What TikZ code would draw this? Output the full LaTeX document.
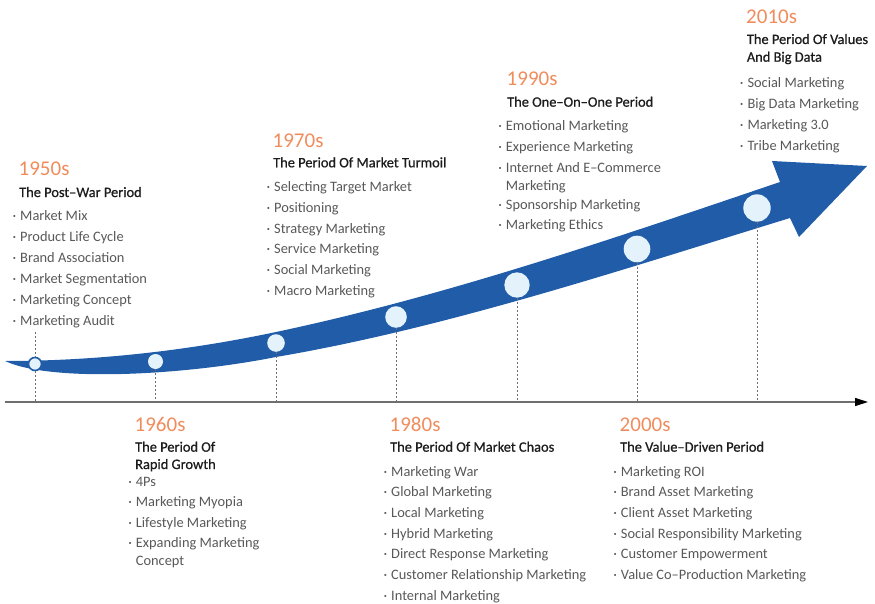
\documentclass[tikz,border=0pt]{standalone}
\usepackage{fontspec}
\setmainfont{Carlito}
\newfontfamily\ttlfont[FakeBold=0.8]{Carlito}
\usepackage{xcolor}
\usetikzlibrary{arrows.meta}
\definecolor{bandblue}{RGB}{32,92,168}
\definecolor{dotfill}{RGB}{228,242,251}
\definecolor{yearorange}{RGB}{240,140,92}
\definecolor{itemgray}{RGB}{88,88,88}
\definecolor{titleblack}{RGB}{28,28,28}
\definecolor{guidegray}{RGB}{110,110,110}

\begin{document}
\begin{tikzpicture}[x=1pt,y=-1pt]
\tikzstyle{yr} = [anchor=base west,inner sep=0,text=yearorange,font=\fontsize{21}{21}\selectfont]
\tikzstyle{ttl} = [anchor=base west,inner sep=0,text=titleblack,font=\ttlfont\fontsize{14.4}{17}\selectfont]
\tikzstyle{itm} = [anchor=base west,inner sep=0,text=itemgray,font=\fontsize{14.4}{17}\selectfont,execute at begin node={\llap{\textperiodcentered\kern4pt}}]
\tikzstyle{itmc} = [anchor=base west,inner sep=0,text=itemgray,font=\fontsize{14.4}{17}\selectfont]
\tikzstyle{dot} = [circle,fill=dotfill,inner sep=0]
\tikzstyle{guide} = [draw=guidegray,line width=0.8pt,dash pattern=on 2pt off 2pt]
\useasboundingbox (0,0) rectangle (875,604);

% axis
\coordinate (a0) at (5,402);
\coordinate (a1) at (868,402);
\draw[guidegray,line width=1.2pt,-{Triangle[length=13pt,width=8pt,color=black]}] (a0) -- (a1);

% blue band
\fill[bandblue] (5,361) .. controls (95,361) and (186,351) .. (276,332)
  .. controls (446,296) and (609,240) .. (780,182)
  -- (772,161) -- (867,166) -- (799,237) -- (790,218)
  .. controls (621,270) and (446,328) .. (276,357)
  .. controls (180,376) and (50,382) .. (5,361) -- cycle;

% decade dots
\node[dot,draw=bandblue,line width=1.6pt,minimum size=13pt] (c1) at (35,364) {};
\node[dot,minimum size=15pt] (c2) at (155.5,361.5) {};
\node[dot,minimum size=17.6pt] (c3) at (276,343) {};
\node[dot,minimum size=21.6pt] (c4) at (396,317) {};
\node[dot,minimum size=25.4pt] (c5) at (517,285) {};
\node[dot,minimum size=26.6pt] (c6) at (637,249) {};
\node[dot,minimum size=27.4pt] (c7) at (757,208) {};

% guides
\coordinate (g1) at (35,332);
\draw[guide] (g1) -- (c1.north);
\foreach \c in {c1,c2,c3,c4,c5,c6,c7}
  \draw[guide] (\c.south) -- (\c |- a0);

% 1950s
\node[yr] (y50) at (18.5,176) {1950s};
\node[ttl] (t50) at (19,197) {The Post–War Period};
\foreach \t [count=\i from 0] in {Market Mix,Product Life Cycle,Brand Association,Market Segmentation,Marketing Concept,Marketing Audit}
  \node[itm] (m50-\i) at (20,{221+20.8*\i}) {\t};

% 1960s
\node[yr] (y60) at (134.5,431) {1960s};
\node[ttl] (t60a) at (135,451.7) {The Period Of};
\node[ttl] (t60b) at (135,469) {Rapid Growth};
\node[itm] (m60-0) at (135.7,486) {4Ps};
\node[itm] (m60-1) at (135.7,506.7) {Marketing Myopia};
\node[itm] (m60-2) at (135.7,527.3) {Lifestyle Marketing};
\node[itm] (m60-3) at (135.7,547.7) {Expanding Marketing};
\node[itmc] (m60-3b) at (135.7,565) {Concept};

% 1970s
\node[yr] (y70) at (272.5,147.3) {1970s};
\node[ttl] (t70) at (273,167.3) {The Period Of Market Turmoil};
\foreach \t [count=\i from 0] in {Selecting Target Market,Positioning,Strategy Marketing,Service Marketing,Social Marketing,Macro Marketing}
  \node[itm] (m70-\i) at (274,{191.7+20.7*\i}) {\t};

% 1980s
\node[yr] (y80) at (389.5,431) {1980s};
\node[ttl] (t80) at (390,451.7) {The Period Of Market Chaos};
\foreach \t [count=\i from 0] in {Marketing War,Global Marketing,Local Marketing,Hybrid Marketing,Direct Response Marketing,Customer Relationship Marketing,Internal Marketing}
  \node[itm] (m80-\i) at (391,{476+20.7*\i}) {\t};

% 1990s
\node[yr] (y90) at (506.5,86) {1990s};
\node[ttl] (t90) at (507,106.7) {The One–On–One Period};
\node[itm] (m90-0) at (505.7,130.7) {Emotional Marketing};
\node[itm] (m90-1) at (505.7,151.3) {Experience Marketing};
\node[itm] (m90-2) at (505.7,172.3) {Internet And E–Commerce};
\node[itmc] (m90-2b) at (505.7,190) {Marketing};
\node[itm] (m90-3) at (505.7,209) {Sponsorship Marketing};
\node[itm] (m90-4) at (505.7,229.3) {Marketing Ethics};

% 2000s
\node[yr] (y00) at (619.5,431) {2000s};
\node[ttl] (t00) at (620,451.7) {The Value–Driven Period};
\foreach \t [count=\i from 0] in {Marketing ROI,Brand Asset Marketing,Client Asset Marketing,Social Responsibility Marketing,Customer Empowerment,Value Co–Production Marketing}
  \node[itm] (m00-\i) at (620.7,{476+20.7*\i}) {\t};

% 2010s
\node[yr] (y10) at (746,24) {2010s};
\node[ttl] (t10a) at (746.7,44) {The Period Of Values};
\node[ttl] (t10b) at (746.7,61.7) {And Big Data};
\foreach \t [count=\i from 0] in {Social Marketing,Big Data Marketing,Marketing 3.0,Tribe Marketing}
  \node[itm] (m10-\i) at (747.3,{87.7+20.8*\i}) {\t};
\end{tikzpicture}
\end{document}
